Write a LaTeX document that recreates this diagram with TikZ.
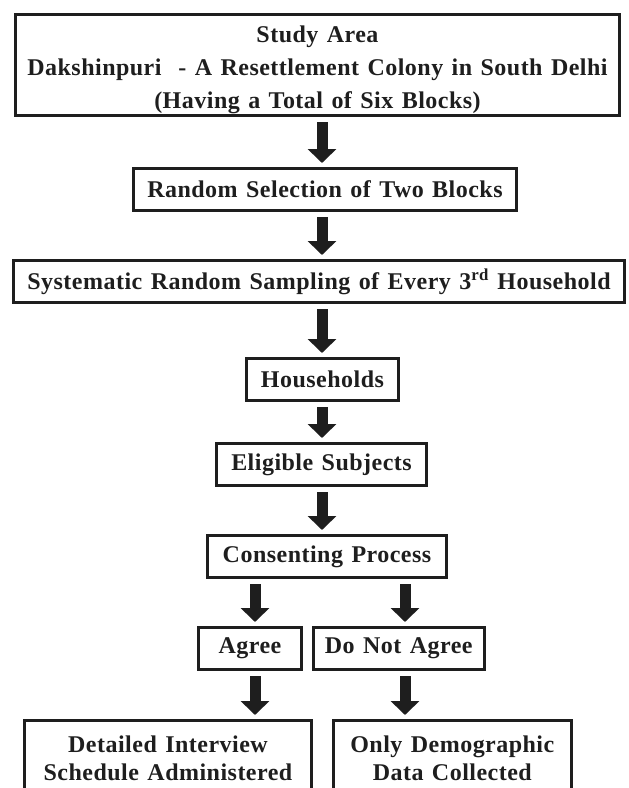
\documentclass[tikz,border=0pt]{standalone}
\usepackage{fontspec}
\setmainfont{Liberation Serif}[LetterSpace=2, WordSpace=1.3]
\usetikzlibrary{positioning, arrows.meta}
\definecolor{ink}{HTML}{1E1E1E}

\begin{document}
\begin{tikzpicture}[
    x=1pt, y=-1pt,
    stage/.style={rectangle, draw=ink, line width=2.8pt, align=center, inner sep=0pt, minimum height=42.2pt, text=ink, font=\fontsize{24}{33}\selectfont\bfseries},
    outcome/.style={stage, minimum height=76.2pt, font=\fontsize{24}{28}\selectfont\bfseries},
    arrow/.style={draw=ink, line width=11pt, -{Triangle[length=14pt, width=28pt]}, shorten <=5pt, shorten >=4pt}
]
\clip (0,0) rectangle (629,788);

% Sampling
\node (area) [stage, minimum width=604pt, minimum height=101.2pt] at (317.5,65) {\rule{0pt}{26pt}Study Area\\ Dakshinpuri~ - A Resettlement Colony in South Delhi\\ (Having a Total of Six Blocks)};
\node (blocks) [stage, minimum width=383pt, below=50pt of area, xshift=7.5pt] {Random Selection of Two Blocks};
\node (sampling) [stage, minimum width=611pt, below=47pt of blocks, xshift=-6pt] {Systematic Random Sampling of Every 3\textsuperscript{rd} Household};
\node (households) [stage, minimum width=152pt, below=53pt of sampling, xshift=3.5pt] {Households};
\node (eligible) [stage, minimum width=210pt, below=40pt of households, xshift=-1pt] {Eligible Subjects};

% Consent
\node (consent) [stage, minimum width=239pt, below=47pt of eligible, xshift=5.5pt] {Consenting Process};
\node (agree) [stage, minimum width=103pt, below=47pt of consent, xshift=-77pt] {Agree};
\node (refuse) [stage, minimum width=171pt, right=9pt of agree] {Do Not Agree};

% Outcome
\node (interview) [outcome, minimum width=287pt, below=48pt of agree, xshift=-82pt] {Detailed Interview\\ Schedule Administered};
\node (demog) [outcome, minimum width=238pt, right=19pt of interview] {Only Demographic\\ Data Collected};

% Arrows
\coordinate (spine) at (322,0);
\coordinate (leftcol) at (255,0);
\coordinate (rightcol) at (405,0);
\draw [arrow] (area.south -| spine) -- (blocks.north -| spine);
\draw [arrow] (blocks.south -| spine) -- (sampling.north -| spine);
\draw [arrow] (sampling.south -| spine) -- (households.north -| spine);
\draw [arrow] (households.south -| spine) -- (eligible.north -| spine);
\draw [arrow] (eligible.south -| spine) -- (consent.north -| spine);
\draw [arrow] (consent.south -| leftcol) -- (agree.north -| leftcol);
\draw [arrow] (consent.south -| rightcol) -- (refuse.north -| rightcol);
\draw [arrow] (agree.south -| leftcol) -- (interview.north -| leftcol);
\draw [arrow] (refuse.south -| rightcol) -- (demog.north -| rightcol);

\end{tikzpicture}
\end{document}
